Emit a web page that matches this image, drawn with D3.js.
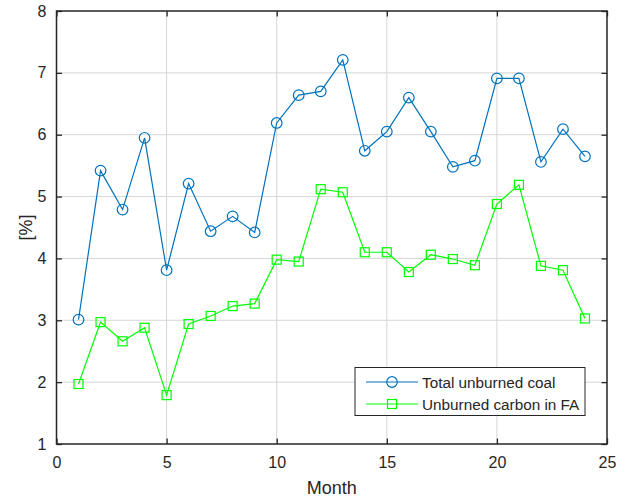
<!DOCTYPE html>
<html>
<head>
<meta charset="utf-8">
<script src="https://cdn.jsdelivr.net/npm/d3@7"></script>
<style>
  body { margin: 0; background: #fff; }
  text { font-family: "Liberation Sans", Arial, sans-serif; fill: #262626; }
</style>
</head>
<body>
<svg width="627" height="497"></svg>
<script>
var months = d3.range(1, 25);
var totalCoal = [3.01, 5.42, 4.79, 5.95, 3.81, 5.21, 4.44, 4.68, 4.42, 6.19, 6.64, 6.70,
                 7.21, 5.74, 6.05, 6.60, 6.05, 5.48, 5.58, 6.91, 6.91, 5.56, 6.09, 5.65];
var carbonFA = [1.97, 2.97, 2.66, 2.88, 1.79, 2.94, 3.07, 3.23, 3.27, 3.98, 3.95, 5.12,
                5.07, 4.10, 4.10, 3.78, 4.06, 3.99, 3.89, 4.88, 5.19, 3.88, 3.81, 3.03];
var xTicks = [0, 5, 10, 15, 20, 25];
var yTicks = [1, 2, 3, 4, 5, 6, 7, 8];
var seriesNames = ["Total unburned coal", "Unburned carbon in FA"];

var svg = d3.select("svg"),
    margin = {top: 11, right: 20, bottom: 53, left: 56.5},
    width = 627 - margin.left - margin.right,
    height = 497 - margin.top - margin.bottom,
    g = svg.append("g").attr("transform", "translate(" + margin.left + "," + margin.top + ")");

var x = d3.scaleLinear().domain([0, 25]).range([0, width]);
var y = d3.scaleLinear().domain([1, 8]).range([height, 0]);

// grid
g.append("g").selectAll("line").data(xTicks.slice(1, -1)).enter().append("line")
    .attr("x1", d => x(d)).attr("x2", d => x(d))
    .attr("y1", 0).attr("y2", height)
    .attr("stroke", "#d6d6d6").attr("stroke-width", 1);
g.append("g").selectAll("line").data(yTicks.slice(1, -1)).enter().append("line")
    .attr("y1", d => y(d)).attr("y2", d => y(d))
    .attr("x1", 0).attr("x2", width)
    .attr("stroke", "#d6d6d6").attr("stroke-width", 1);

// axes, ticks inside
function styleAxis(sel) {
    sel.select(".domain").remove();
    sel.selectAll(".tick line").attr("stroke", "#262626").attr("stroke-width", 1.3);
    sel.selectAll("text").attr("font-size", "16px").style("fill", "#262626");
}
g.append("g").attr("transform", "translate(0," + height + ")")
    .call(d3.axisBottom(x).tickValues(xTicks).tickSize(-5.5).tickPadding(13).tickFormat(d3.format("d")))
    .call(styleAxis);
g.append("g")
    .call(d3.axisTop(x).tickValues(xTicks).tickSize(-5.5).tickFormat(""))
    .call(styleAxis);
g.append("g")
    .call(d3.axisLeft(y).tickValues(yTicks).tickSize(-5.5).tickPadding(10).tickFormat(d3.format("d")))
    .call(styleAxis);
g.append("g").attr("transform", "translate(" + width + ",0)")
    .call(d3.axisRight(y).tickValues(yTicks).tickSize(-5.5).tickFormat(""))
    .call(styleAxis);

g.append("rect").attr("width", width).attr("height", height)
    .attr("fill", "none").attr("stroke", "#262626").attr("stroke-width", 1.5);

var line = d3.line().x((d, i) => x(months[i])).y(d => y(d));

// total unburned coal
g.append("path").datum(totalCoal).attr("d", line)
    .attr("fill", "none").attr("stroke", "#0072BD").attr("stroke-width", 1.2);
g.selectAll(".circ").data(totalCoal).enter().append("circle")
    .attr("cx", (d, i) => x(months[i])).attr("cy", d => y(d)).attr("r", 5.3)
    .attr("fill", "none").attr("stroke", "#0072BD").attr("stroke-width", 1.2);

// unburned carbon in FA
g.append("path").datum(carbonFA).attr("d", line)
    .attr("fill", "none").attr("stroke", "#00FF00").attr("stroke-width", 1.2);
g.selectAll(".sq").data(carbonFA).enter().append("rect")
    .attr("x", (d, i) => x(months[i]) - 4.5).attr("y", d => y(d) - 4.5)
    .attr("width", 9).attr("height", 9)
    .attr("fill", "none").attr("stroke", "#00FF00").attr("stroke-width", 1.2);

// labels
svg.append("text").attr("x", margin.left + width / 2).attr("y", 494)
    .attr("text-anchor", "middle").attr("font-size", "18px").text("Month");
svg.append("text").attr("transform", "translate(32," + (margin.top + height / 2) + ") rotate(-90)")
    .attr("text-anchor", "middle").attr("font-size", "18px").text("[%]");

// legend
var leg = svg.append("g").attr("transform", "translate(355,367.5)");
leg.append("rect").attr("width", 230).attr("height", 48)
    .attr("fill", "#fff").attr("stroke", "#262626").attr("stroke-width", 1);
var colors = ["#0072BD", "#00FF00"];
seriesNames.forEach(function(name, i) {
    var ly = 14.5 + i * 22;
    leg.append("line").attr("x1", 11).attr("x2", 63).attr("y1", ly).attr("y2", ly)
        .attr("stroke", colors[i]).attr("stroke-width", 1.2);
    if (i == 0) {
        leg.append("circle").attr("cx", 37).attr("cy", ly).attr("r", 5.3)
            .attr("fill", "none").attr("stroke", colors[i]).attr("stroke-width", 1.2);
    } else {
        leg.append("rect").attr("x", 32.5).attr("y", ly - 4.5).attr("width", 9).attr("height", 9)
            .attr("fill", "none").attr("stroke", colors[i]).attr("stroke-width", 1.2);
    }
    leg.append("text").attr("x", 67).attr("y", ly + 5.5).attr("font-size", "15.3px").text(name);
});
</script>
</body>
</html>
